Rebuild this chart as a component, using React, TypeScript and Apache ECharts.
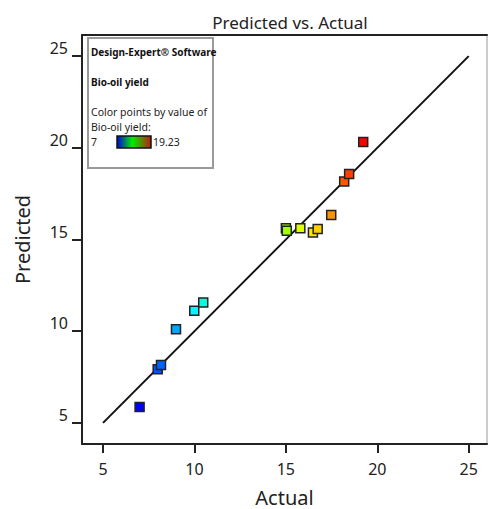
import React, { useEffect, useRef } from "react";
import * as echarts from "echarts";

const actual = [7.0, 7.99, 8.17, 8.99, 9.99, 10.48, 15.0, 15.05, 15.79, 16.48, 16.74, 17.48, 18.19, 18.46, 19.23];
const predicted = [5.87, 7.93, 8.16, 10.11, 11.11, 11.56, 15.62, 15.48, 15.62, 15.38, 15.57, 16.33, 18.16, 18.57, 20.31];
const diagonal = [
  [5, 5],
  [25, 25],
];
const tickValues = [5, 10, 15, 20, 25];
const colorMin = 7;
const colorMax = 19.23;
const legendLines = ["Design-Expert® Software", "Bio-oil yield", "Color points by value of", "Bio-oil yield:"];

const FONT = "'Noto Sans', sans-serif";

export default function App() {
  const ref = useRef<HTMLDivElement>(null);
  useEffect(() => {
    document.body.style.margin = "0";
    const chart = echarts.init(ref.current!, null, { renderer: "svg" });
    const axisMin = 3.85;
    const axisMax = 26.0;
    const pts = actual.map((a, i) => [a, predicted[i]]);
    chart.setOption({
      animation: false,
      backgroundColor: "#fff",
      title: {
        text: "Predicted vs. Actual",
        left: 285,
        top: 9,
        textAlign: "center",
        textStyle: { fontFamily: FONT, fontSize: 17, fontWeight: "normal", color: "#222" },
      },
      grid: { left: 82, right: 2, top: 35, bottom: 65, containLabel: false, outerBoundsMode: "none" },
      xAxis: [
        {
          type: "value",
          min: axisMin,
          max: axisMax,
          name: "Actual",
          nameLocation: "middle",
          nameGap: 42,
          nameTextStyle: { fontFamily: FONT, fontSize: 20, lineHeight: 22, color: "#222" },
          axisLine: { lineStyle: { color: "#222", width: 2 } },
          axisTick: { show: true, length: 9, customValues: tickValues, lineStyle: { color: "#222", width: 2 } },
          axisLabel: { customValues: tickValues, margin: 17, fontFamily: FONT, fontSize: 16, color: "#222" },
          splitLine: { show: false },
        },
        {
          type: "value",
          position: "top",
          min: axisMin,
          max: axisMax,
          axisLine: { show: true, lineStyle: { color: "#222", width: 2 } },
          axisTick: { show: false },
          axisLabel: { show: false },
          splitLine: { show: false },
        },
      ],
      yAxis: [
        {
          type: "value",
          min: axisMin,
          max: 26.15,
          name: "Predicted",
          nameLocation: "middle",
          nameGap: 50,
          nameTextStyle: { fontFamily: FONT, fontSize: 20, color: "#222" },
          axisLine: { show: true, lineStyle: { color: "#222", width: 2 } },
          axisTick: { show: true, length: 10, customValues: tickValues, lineStyle: { color: "#222", width: 2 } },
          axisLabel: {
            customValues: tickValues,
            margin: 14,
            verticalAlign: "bottom",
            fontFamily: FONT,
            fontSize: 16,
            color: "#222",
          },
          splitLine: { show: false },
        },
        {
          type: "value",
          position: "right",
          min: axisMin,
          max: 26.15,
          axisLine: { show: true, lineStyle: { color: "#bbb", width: 1.5 } },
          axisTick: { show: false },
          axisLabel: { show: false },
          splitLine: { show: false },
        },
      ],
      visualMap: {
        type: "continuous",
        show: false,
        min: colorMin,
        max: colorMax,
        dimension: 0,
        seriesIndex: 1,
        inRange: { color: ["#0000ff", "#00ffff", "#00ff00", "#ffff00", "#ff0000"] },
      },
      series: [
        {
          type: "line",
          data: diagonal,
          symbol: "none",
          lineStyle: { color: "#111", width: 2 },
          z: 2,
          silent: true,
        },
        {
          type: "scatter",
          data: pts,
          symbol: "rect",
          symbolSize: 9,
          itemStyle: { borderColor: "#222", borderWidth: 1.5, opacity: 1 },
          z: 3,
        },
      ],
      graphic: [
        {
          type: "group",
          left: 87,
          top: 37,
          children: [
            {
              type: "rect",
              shape: { x: 0, y: 0, width: 125, height: 130 },
              style: { fill: "#fff", stroke: "#9a9a9a", lineWidth: 2 },
            },
            {
              type: "text",
              x: 3,
              y: 14,
              style: { text: legendLines[0], font: `bold 10px ${FONT}`, fill: "#111", verticalAlign: "middle" },
            },
            {
              type: "text",
              x: 3,
              y: 44,
              style: { text: legendLines[1], font: `bold 10px ${FONT}`, fill: "#111", verticalAlign: "middle" },
            },
            {
              type: "text",
              x: 3,
              y: 74,
              style: { text: legendLines[2], font: `10.5px ${FONT}`, fill: "#222", verticalAlign: "middle" },
            },
            {
              type: "text",
              x: 3,
              y: 89,
              style: { text: legendLines[3], font: `10.5px ${FONT}`, fill: "#222", verticalAlign: "middle" },
            },
            {
              type: "text",
              x: 3,
              y: 104,
              style: { text: String(colorMin), font: `10.5px ${FONT}`, fill: "#222", verticalAlign: "middle" },
            },
            {
              type: "rect",
              shape: { x: 29, y: 98, width: 34, height: 12 },
              style: {
                fill: new echarts.graphic.LinearGradient(0, 0, 1, 0, [
                  { offset: 0, color: "#0000dd" },
                  { offset: 0.45, color: "#00ee00" },
                  { offset: 1, color: "#c01a10" },
                ]),
                stroke: "#111",
                lineWidth: 1.5,
              },
            },
            {
              type: "text",
              x: 65,
              y: 104,
              style: { text: String(colorMax), font: `10.5px ${FONT}`, fill: "#222", verticalAlign: "middle" },
            },
          ],
        },
      ],
    });
    return () => chart.dispose();
  }, []);
  return <div ref={ref} style={{ width: 489, height: 509 }} />;
}
